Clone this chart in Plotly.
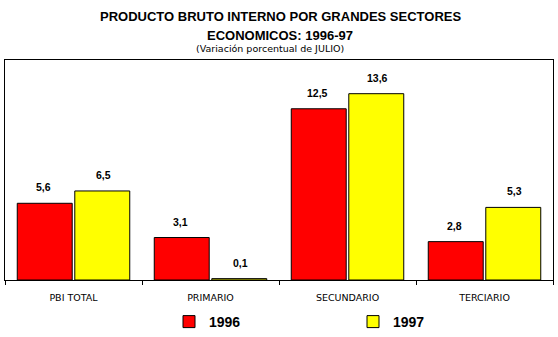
import plotly.graph_objects as go

categories = ["PBI TOTAL", "PRIMARIO", "SECUNDARIO", "TERCIARIO"]
v1996 = [5.6, 3.1, 12.5, 2.8]
v1997 = [6.5, 0.1, 13.6, 5.3]
series_names = ["1996", "1997"]
colors = ["#FF0000", "#FFFF00"]

W, H = 558, 337
L, R, T, B = 5, 5, 60, 57

fig = go.Figure()
for name, vals, col in zip(series_names, [v1996, v1997], colors):
    fig.add_trace(go.Bar(
        x=categories, y=vals, name=name,
        marker=dict(color=col, line=dict(color="black", width=1)),
    ))

# value labels
for i, (vals, shift) in enumerate([(v1996, -30), (v1997, 30)]):
    for c, v in zip(categories, vals):
        fig.add_annotation(
            x=c, y=v, xref="x", yref="y", text=f"{v:.1f}".replace(".", ","),
            showarrow=False, xshift=shift, yshift=8, yanchor="bottom",
            font=dict(family="Liberation Sans, Arial", size=10.5, color="black", weight="bold"),
        )

pw = W - L - R
ph = H - T - B
def ypaper(px):
    return (H - B - px) / ph
def xpaper(px):
    return (px - L) / pw

fig.add_annotation(x=xpaper(280), y=ypaper(17), xref="paper", yref="paper",
                   xanchor="center", yanchor="middle",
                   text="PRODUCTO BRUTO INTERNO POR GRANDES SECTORES", showarrow=False,
                   font=dict(family="Liberation Sans, Arial", size=13, color="black", weight="bold"))
fig.add_annotation(x=xpaper(280), y=ypaper(35), xref="paper", yref="paper",
                   xanchor="center", yanchor="middle",
                   text="ECONOMICOS: 1996-97", showarrow=False,
                   font=dict(family="Liberation Sans, Arial", size=13, color="black", weight="bold"))
fig.add_annotation(x=xpaper(270), y=ypaper(48), xref="paper", yref="paper",
                   xanchor="center", yanchor="middle",
                   text="(Variación porcentual de JULIO)", showarrow=False,
                   font=dict(family="DejaVu Sans", size=9.5, color="black"))

fig.update_layout(
    width=W, height=H,
    margin=dict(l=L, r=R, t=T, b=B, pad=0, autoexpand=False),
    paper_bgcolor="white", plot_bgcolor="white",
    barmode="group", bargap=0.16, bargroupgap=0.045,
    showlegend=True,
    legend=dict(orientation="h", x=xpaper(169), xanchor="left",
                y=ypaper(322), yanchor="middle",
                entrywidth=139, entrywidthmode="pixels",
                font=dict(family="Liberation Sans, Arial", size=14, color="black", weight="bold"),
                bgcolor="rgba(0,0,0,0)", itemclick=False),
    xaxis=dict(showline=True, linecolor="black", linewidth=1, mirror=True,
               ticks="outside", tickson="boundaries", ticklen=4, tickcolor="black",
               ticklabelstandoff=9, showgrid=False, range=[-0.5, 3.5],
               tickfont=dict(family="DejaVu Sans", size=9.5, color="black")),
    yaxis=dict(showline=True, linecolor="black", linewidth=1, mirror=True,
               range=[0, 16.06], showgrid=False, showticklabels=False, ticks="",
               zeroline=False),
)

fig.write_html("out.html")
